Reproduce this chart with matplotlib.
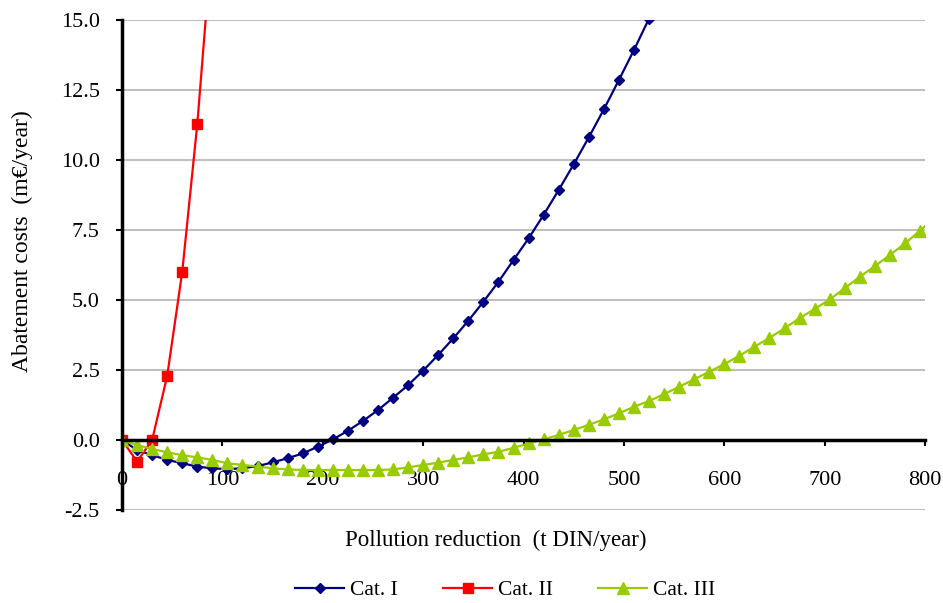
import matplotlib.pyplot as plt
import numpy as np

plt.rcParams['font.family'] = ['Liberation Serif', 'DejaVu Serif']

# reduccion (t DIN/year), paso de 15
x_cat1 = np.arange(0, 541, 15)
y_cat1 = [0.0, -0.36, -0.54, -0.71, -0.83, -0.95, -1.01, -1.04, -1.01, -0.93,
          -0.80, -0.65, -0.48, -0.24, 0.02, 0.33, 0.68, 1.07, 1.51, 1.96,
          2.48, 3.04, 3.63, 4.26, 4.94, 5.65, 6.43, 7.20, 8.04, 8.93,
          9.85, 10.81, 11.81, 12.86, 13.93, 15.05, 16.2]

x_cat2 = np.arange(0, 91, 15)
y_cat2 = [0.0, -0.77, 0.0, 2.29, 6.01, 11.29, 18.0]

x_cat3 = np.arange(0, 811, 15)
y_cat3 = [0.0, -0.18, -0.32, -0.44, -0.54, -0.62, -0.71, -0.83, -0.89, -0.95,
          -1.01, -1.05, -1.07, -1.07, -1.07, -1.07, -1.07, -1.07, -1.05, -0.98,
          -0.89, -0.81, -0.71, -0.62, -0.51, -0.42, -0.28, -0.12, 0.02, 0.18,
          0.36, 0.54, 0.74, 0.95, 1.19, 1.39, 1.64, 1.90, 2.17, 2.44,
          2.71, 3.01, 3.33, 3.65, 3.99, 4.35, 4.68, 5.02, 5.42, 5.83,
          6.21, 6.61, 7.02, 7.48, 7.95]

fig = plt.figure(figsize=(9.43, 6.03), dpi=100)
ax = fig.add_axes([0.1294, 0.1542, 0.8516, 0.8126])

ax.plot(x_cat1, y_cat1, color='#000080', marker='D', ms=5.5, lw=1.6, label='Cat. I')
ax.plot(x_cat2, y_cat2, color='#FF0000', marker='s', ms=7, lw=1.6, label='Cat. II')
ax.plot(x_cat3, y_cat3, color='#99CC00', marker='^', ms=8, lw=1.6, label='Cat. III')

ax.set_xlim(0, 800)
ax.set_ylim(-2.5, 15)
ax.set_xticks(np.arange(0, 801, 100))
ax.set_yticks(np.arange(-2.5, 15.1, 2.5))
ax.set_yticklabels(['%.1f' % v for v in np.arange(-2.5, 15.1, 2.5)])

# eje x cruzando en cero
ax.spines['bottom'].set_position(('data', 0))
ax.spines['bottom'].set_linewidth(2.5)
ax.spines['left'].set_linewidth(2.5)
ax.spines['top'].set_visible(False)
ax.spines['right'].set_visible(False)
ax.set_axisbelow(True)
ax.grid(axis='y', color='#BFBFBF', lw=1.5)
ax.tick_params(axis='both', labelsize=16, width=1.5, length=4, direction='out')
ax.tick_params(axis='x', pad=18)
ax.tick_params(axis='y', pad=12)

ax.set_ylabel('Abatement costs  (m€/year)', fontsize=17)
ax.yaxis.set_label_coords(-0.111, 0.549)
fig.text(496 / 943, 1 - 540 / 603, 'Pollution reduction  (t DIN/year)',
         ha='center', va='center', fontsize=16.5)

fig.legend(loc='center', bbox_to_anchor=(505 / 943, 1 - 590 / 603), ncol=3,
           frameon=False, fontsize=15.5, handlelength=2.3, handletextpad=0.25,
           columnspacing=2.1)

plt.savefig('out.png', dpi=100)
